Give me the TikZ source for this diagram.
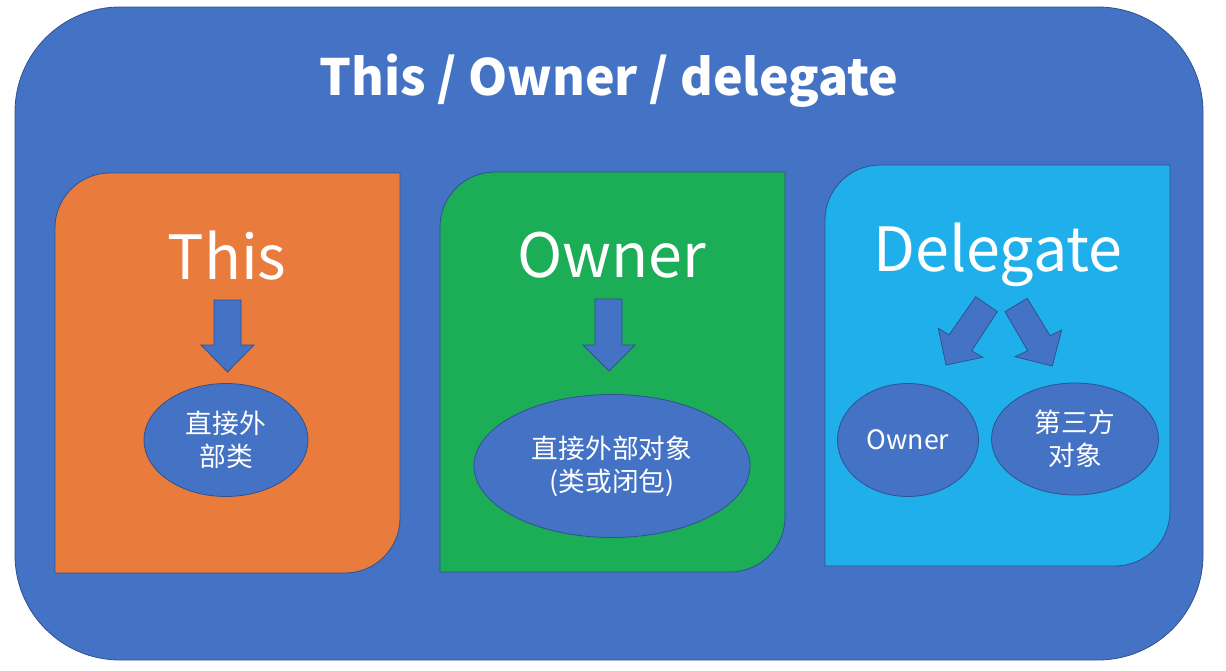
\documentclass[tikz,border=0pt]{standalone}
\usepackage{fontspec}
\setmainfont{Noto Sans CJK SC}
\usetikzlibrary{shapes.geometric}
\definecolor{outerblue}{HTML}{4472C4}
\definecolor{edgeblue}{HTML}{2F528F}
\definecolor{panelorange}{HTML}{E97C3C}
\definecolor{panelgreen}{RGB}{28,173,87}
\definecolor{panelcyan}{RGB}{31,176,236}
% panel with rounded top-left and bottom-right corners: x1 y1 x2 y2 r colour
\newcommand{\diagpanel}[6]{%
  \filldraw[panelline, fill=#6] (#1,#4) -- (#1,{#2+#5})
    .. controls (#1,{#2+0.4477*#5}) and ({#1+0.4477*#5},#2) .. ({#1+#5},#2)
    -- (#3,#2) -- (#3,{#4-#5})
    .. controls (#3,{#4-0.4477*#5}) and ({#3-0.4477*#5},#4) .. ({#3-#5},#4)
    -- cycle;}
\begin{document}
\begin{tikzpicture}[x=1pt,y=-1pt,
  panelline/.style={draw=edgeblue, line width=0.8pt},
  blockarrow/.style={fill=outerblue, draw=edgeblue, line width=0.8pt, line join=miter},
  oval/.style={ellipse, draw=edgeblue, fill=outerblue, line width=0.8pt, inner sep=0pt,
    text=white, align=center, font=\fontsize{26.7}{33}\selectfont},
  bigtext/.style={text=white, inner sep=0pt, anchor=base, font=\fontsize{61}{70}\selectfont},
  titletext/.style={text=white, inner sep=0pt, anchor=base, font=\bfseries\fontsize{50}{60}\selectfont}]
\useasboundingbox (0,0) rectangle (1226,670);
% outer frame
\filldraw[panelline, fill=outerblue, rounded corners=105pt] (15,7) rectangle (1203,660);
\node[titletext] (title) at (609,95) {This / Owner / delegate};
% panels
\diagpanel{55}{173}{400}{573}{55}{panelorange}
\diagpanel{440}{172}{785}{572}{55}{panelgreen}
\diagpanel{825}{165}{1170}{566}{55}{panelcyan}
% panel headings
\node[bigtext] (thislabel) at (227,279) {This};
\node[bigtext] (ownerlabel) at (612,277) {Owner};
\node[bigtext] (delegatelabel) at (998,271) {Delegate};
% down arrows
\filldraw[blockarrow] (214,300) -- (241,300) -- (241,345) -- (254,345) -- (227.5,372)
  -- (201,345) -- (214,345) -- cycle;
\filldraw[blockarrow] (595,299) -- (622,299) -- (622,345) -- (635,345) -- (609,371)
  -- (583,345) -- (595,345) -- cycle;
% delegate arrows
\filldraw[blockarrow] (975.7,296.7) -- (997.3,311.7) -- (971.7,350.7) -- (982.7,357.3)
  -- (946,365) -- (938.3,328.3) -- (949,335) -- cycle;
\filldraw[blockarrow] (1005,311.7) -- (1027.3,298.3) -- (1050,335.7) -- (1061.7,330)
  -- (1052.3,366) -- (1015,356.7) -- (1027.7,350.7) -- cycle;
% ellipses
\node[oval, minimum width=164pt, minimum height=113pt] (thisobj) at (226,440) {直接外\\部类};
\node[oval, minimum width=276pt, minimum height=143pt] (ownerobj) at (612,466) {直接外部对象\\(类或闭包)};
\node[oval, minimum width=141pt, minimum height=113pt] (delowner) at (908,440) {Owner};
\node[oval, minimum width=167pt, minimum height=112pt] (delthird) at (1075,439) {第三方\\对象};
\end{tikzpicture}
\end{document}
